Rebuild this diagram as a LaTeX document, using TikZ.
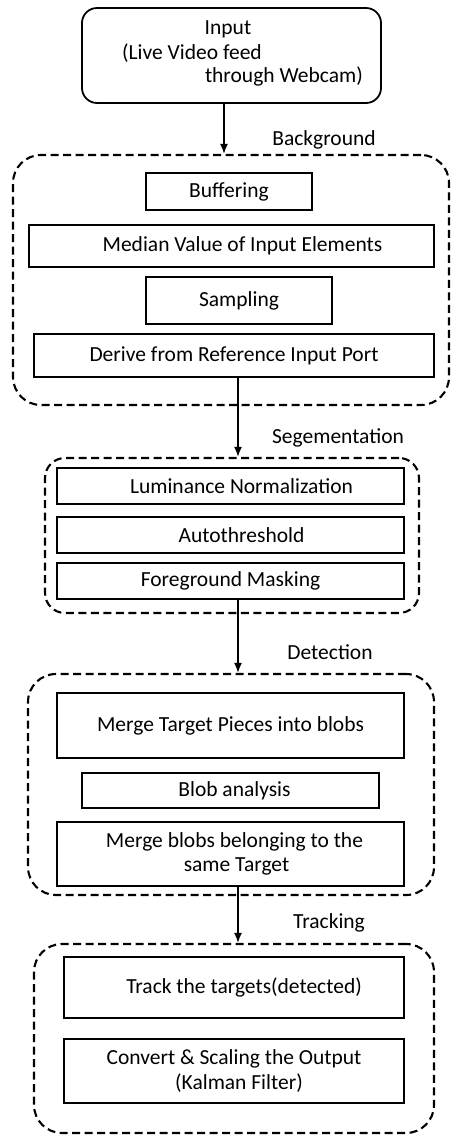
\documentclass[tikz,border=0pt]{standalone}
\usepackage{fontspec}
\setmainfont{Carlito}
\usetikzlibrary{arrows.meta,calc}
\begin{document}
\begin{tikzpicture}[x=1pt,y=1pt,
  every node/.style={font=\fontsize{21.5}{24.5}\selectfont},
  box/.style={draw,line width=1.8pt,rectangle,inner sep=0pt},
  frame/.style={draw,line width=2.1pt,dash pattern=on 8pt off 4.5pt,rounded corners=28pt,inner sep=0pt},
  stage/.style={inner sep=0pt},
  arr/.style={line width=1.7pt,-{Latex[length=10pt,width=8pt]}}]
\useasboundingbox (0,0) rectangle (451,-1136);
% source
\node[box,rounded corners=15pt,minimum width=299,minimum height=95] (inp) at (231.5,-55.5) {};
\node[stage] (inpA) at (228,-29) {Input};
\node[stage,anchor=west] (inpB) at (122,-53) {(Live Video feed};
\node[stage,anchor=east] (inpC) at (363,-76) {through Webcam)};
% background stage
\node[frame,minimum width=436,minimum height=250] (bgf) at (231,-280) {};
\node[stage] (bgl) at (324,-140) {Background};
\node[box,minimum width=166,minimum height=37] (buf) at (229,-191.5) {Buffering};
\node[box,minimum width=405,minimum height=42] (med) at (231.5,-246) {\hspace*{22pt}Median Value of Input Elements};
\node[box,minimum width=186,minimum height=47] (smp) at (239,-300.5) {Sampling};
\node[box,minimum width=400,minimum height=43] (der) at (234,-355.5) {Derive from Reference Input Port};
% segmentation stage
\node[frame,rounded corners=20pt,minimum width=374,minimum height=155] (sgf) at (232,-535.5) {};
\node[stage] (sgl) at (338,-438) {Segementation};
\node[box,minimum width=347,minimum height=36] (lum) at (230.5,-486) {\hspace*{22pt}Luminance Normalization};
\node[box,minimum width=347,minimum height=36] (thr) at (230.5,-535) {\hspace*{22pt}Autothreshold};
\node[box,minimum width=347,minimum height=36] (fgm) at (230.5,-581) {Foreground Masking};
% detection stage
\node[frame,minimum width=406,minimum height=221] (dtf) at (231,-784.5) {};
\node[stage] (dtl) at (330,-652) {Detection};
\node[box,minimum width=347,minimum height=65] (mtp) at (230.5,-725.5) {Merge Target Pieces into blobs};
\node[box,minimum width=297,minimum height=35] (bla) at (230.5,-790.5) {\hspace*{8pt}Blob analysis};
\node[box,minimum width=347,minimum height=64,align=center] (mbb) at (230.5,-854) {\hspace*{8pt}Merge blobs belonging to the\\\hspace*{12pt}same Target};
% tracking stage
\node[frame,minimum width=400,minimum height=189] (trf) at (234,-1038.5) {};
\node[stage] (trl) at (329,-923) {Tracking};
\node[box,minimum width=340,minimum height=61] (trk) at (234,-987.5) {\hspace*{20pt}Track the targets(detected)};
\node[box,minimum width=340,minimum height=64,align=center] (cvt) at (234,-1071) {Convert \& Scaling the Output\\\hspace*{10pt}(Kalman Filter)};
% flow between stages
\coordinate (ax) at (238,0);
\draw[arr] (inp.south -| 224,0) -- (bgf.north -| 224,0);
\draw[arr] (der.south -| ax) -- (sgf.north -| ax);
\draw[arr] (fgm.south -| ax) -- (dtf.north -| ax);
\draw[arr] (mbb.south -| ax) -- (trf.north -| ax);
\end{tikzpicture}
\end{document}
